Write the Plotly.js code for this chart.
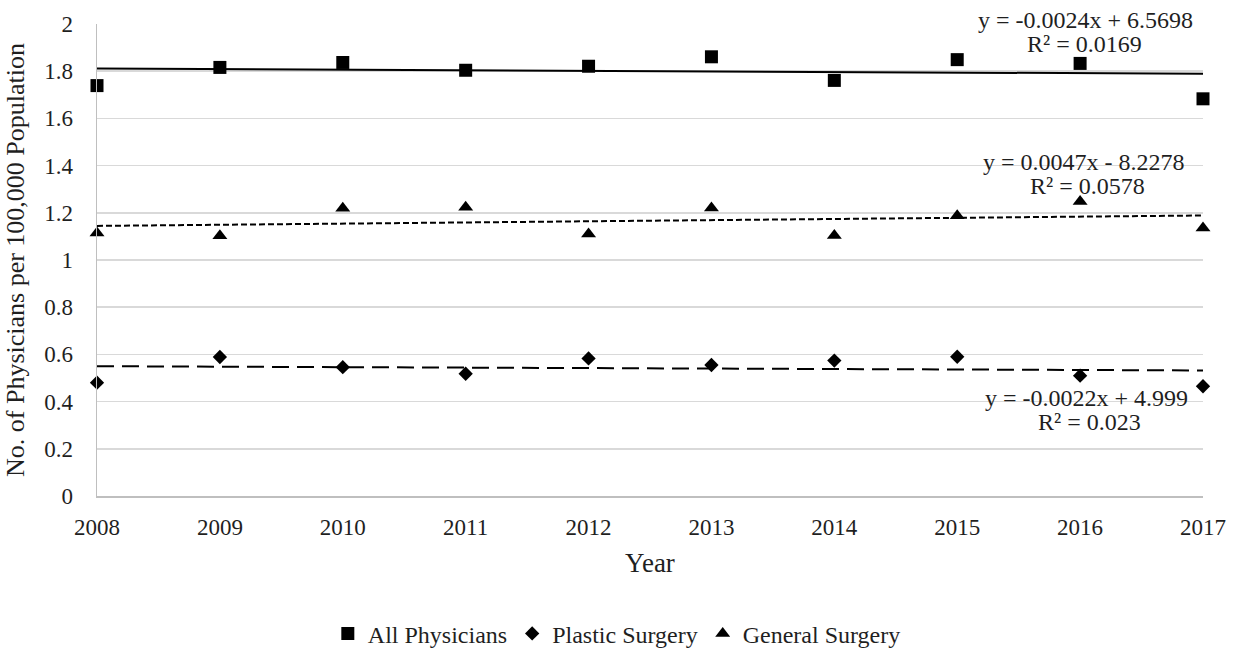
<!DOCTYPE html>
<html>
<head>
<meta charset="utf-8">
<script src="https://cdn.plot.ly/plotly-3.0.1.min.js"></script>
<style>html,body{margin:0;padding:0;background:#fff;}#chart{width:1234px;height:648px;}</style>
</head>
<body>
<div id="chart"></div>
<script>
const years = [2008, 2009, 2010, 2011, 2012, 2013, 2014, 2015, 2016, 2017];
const allPhysicians = [1.739, 1.816, 1.837, 1.804, 1.821, 1.861, 1.761, 1.849, 1.833, 1.683];
const plasticSurgery = [0.480, 0.589, 0.546, 0.518, 0.583, 0.555, 0.574, 0.590, 0.510, 0.465];
const generalSurgery = [1.114, 1.103, 1.219, 1.223, 1.110, 1.220, 1.104, 1.188, 1.248, 1.136];
const seriesNames = ["All Physicians", "Plastic Surgery", "General Surgery"];
const equationLines = [
  "y = -0.0024x + 6.5698", "R² = 0.0169",
  "y = 0.0047x - 8.2278", "R² = 0.0578",
  "y = -0.0022x + 4.999", "R² = 0.023"
];
const yTicks = [0, 0.2, 0.4, 0.6, 0.8, 1, 1.2, 1.4, 1.6, 1.8, 2];

function fit(xs, ys) {
  const n = xs.length;
  const mx = xs.reduce((a, b) => a + b, 0) / n;
  const my = ys.reduce((a, b) => a + b, 0) / n;
  let sxy = 0, sxx = 0;
  for (let i = 0; i < n; i++) { sxy += (xs[i] - mx) * (ys[i] - my); sxx += (xs[i] - mx) ** 2; }
  const m = sxy / sxx;
  const b = my - m * mx;
  const ends = [xs[0], xs[n - 1]];
  return { x: ends, y: ends.map(v => m * v + b) };
}

const font = "'Liberation Serif', 'Times New Roman', serif";
const txt = "#1f1f1f";

const markerTrace = (ys, name, symbol, size) => ({
  x: years, y: ys, name: name, type: "scatter", mode: "markers",
  marker: { symbol: symbol, size: size, color: "#000" }, cliponaxis: false
});
const trendTrace = (ys, dash) => {
  const f = fit(years, ys);
  return { x: f.x, y: f.y, type: "scatter", mode: "lines", showlegend: false, hoverinfo: "skip",
    line: { color: "#000", width: 2, dash: dash } };
};

const data = [
  trendTrace(allPhysicians, "solid"),
  trendTrace(plasticSurgery, "17px,8px"),
  trendTrace(generalSurgery, "6px,3px"),
  markerTrace(allPhysicians, seriesNames[0], "square", 13),
  markerTrace(plasticSurgery, seriesNames[1], "diamond", 11),
  markerTrace(generalSurgery, seriesNames[2], "triangle-up", 13)
];

const annPos = [[0.8938, 1.0085], [0.8933, 0.9576], [0.8924, 0.7076], [0.8960, 0.6568], [0.8951, 0.2076], [0.8978, 0.1568]];
const annotations = equationLines.map((t, i) => ({
  x: annPos[i][0], y: annPos[i][1], xref: "paper", yref: "paper", text: t, showarrow: false,
  xanchor: "center", yanchor: "middle",
  font: { family: font, size: 24, color: txt }
}));

const layout = {
  width: 1234, height: 648,
  margin: { l: 97, r: 31, t: 24, b: 152, autoexpand: false },
  paper_bgcolor: "#fff", plot_bgcolor: "#fff",
  font: { family: font, color: txt },
  showlegend: true,
  legend: { orientation: "h", x: 0.47, xanchor: "center", y: -0.292, yanchor: "middle",
    font: { family: font, size: 24, color: txt }, itemwidth: 30, traceorder: "normal" },
  xaxis: {
    range: [2008, 2017], tickvals: years, ticktext: years.map(String),
    showgrid: false, zeroline: false, showline: true, linecolor: "#bfbfbf", linewidth: 1.5,
    ticks: "", ticklabelstandoff: 10, tickfont: { family: font, size: 23, color: txt },
    title: { text: "Year", font: { family: font, size: 27, color: txt }, standoff: 14 }
  },
  yaxis: {
    range: [0, 2], tickvals: yTicks, ticktext: yTicks.map(String),
    showgrid: true, gridcolor: "#d9d9d9", gridwidth: 1.5, zeroline: false,
    showline: true, linecolor: "#bfbfbf", linewidth: 1.5, ticks: "", ticklabelstandoff: 18,
    tickfont: { family: font, size: 23, color: txt },
    title: { text: "No. of Physicians per 100,000 Population", font: { family: font, size: 26, color: txt }, standoff: 12 }
  },
  annotations: annotations
};

Plotly.newPlot("chart", data, layout, { displayModeBar: false, staticPlot: true });
</script>
</body>
</html>
